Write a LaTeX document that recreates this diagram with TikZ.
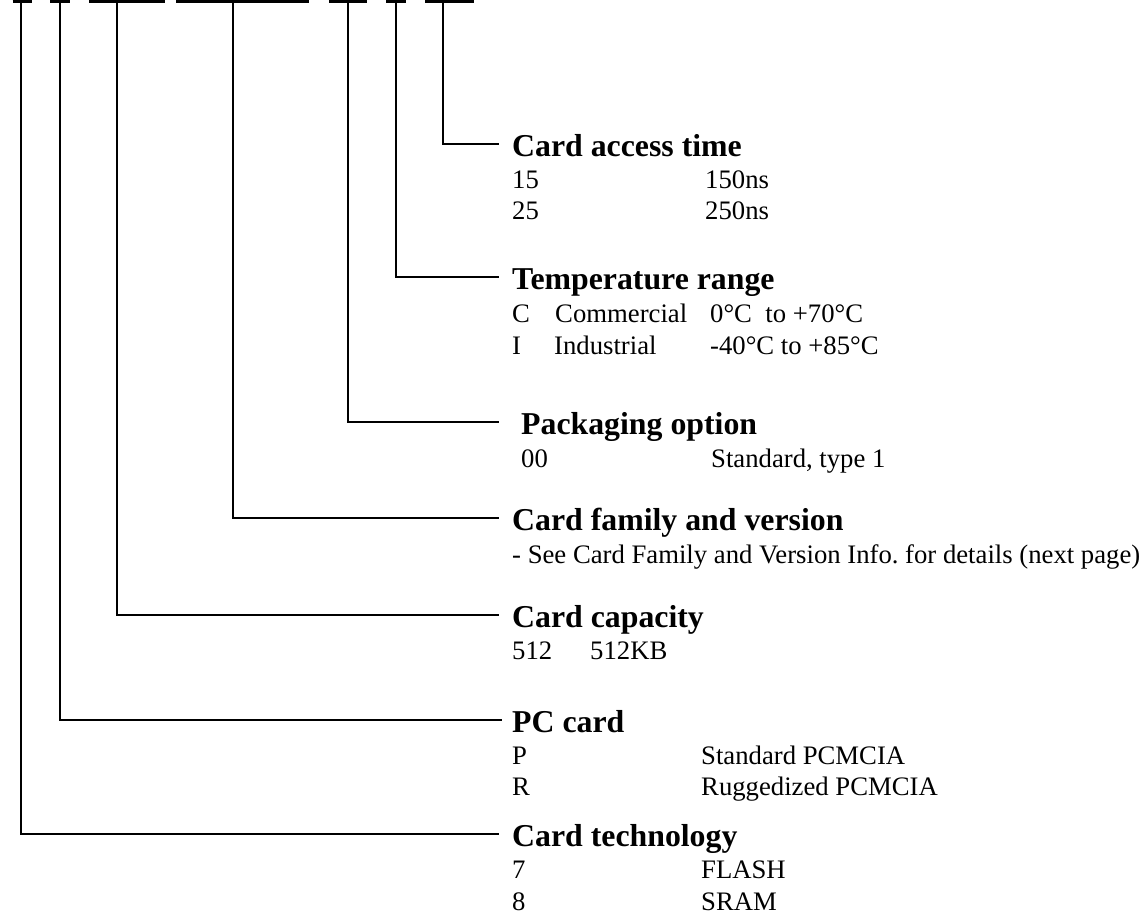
\documentclass[tikz,border=0pt]{standalone}
\usepackage{fontspec}
\setmainfont{Liberation Serif}
\frenchspacing
\tikzset{
  ttl/.style={anchor=base west, inner sep=0pt, font=\fontsize{31.8}{38}\selectfont\bfseries},
  bdy/.style={anchor=base west, inner sep=0pt, font=\fontsize{26.7}{31}\selectfont},
  topbar/.style={line width=2.4pt},
  lead/.style={line width=1.8pt},
}
\begin{document}
\begin{tikzpicture}[x=1pt,y=-1pt]
\useasboundingbox (0,0) rectangle (1146,918);
% top bars
\draw[topbar] (12.7,1.5) -- (31.7,1.5);
\draw[topbar] (50,1.5) -- (70,1.5);
\draw[topbar] (89,1.5) -- (165,1.5);
\draw[topbar] (176,1.5) -- (309,1.5);
\draw[topbar] (329,1.5) -- (367,1.5);
\draw[topbar] (386,1.5) -- (406,1.5);
\draw[topbar] (425,1.5) -- (474,1.5);
% bar taps
\coordinate (sTech) at (21,2);
\coordinate (sPC) at (60,2);
\coordinate (sCap) at (117,2);
\coordinate (sFam) at (233,2);
\coordinate (sPack) at (348,2);
\coordinate (sTemp) at (396,2);
\coordinate (sAcc) at (443,2);
% line ends
\coordinate (eAcc) at (499,144);
\coordinate (eTemp) at (499,277);
\coordinate (ePack) at (499,422);
\coordinate (eFam) at (499,518);
\coordinate (eCap) at (499,615);
\coordinate (ePC) at (502,720);
\coordinate (eTech) at (499,834);
% connectors
\draw[lead] (sAcc) |- (eAcc);
\draw[lead] (sTemp) |- (eTemp);
\draw[lead] (sPack) |- (ePack);
\draw[lead] (sFam) |- (eFam);
\draw[lead] (sCap) |- (eCap);
\draw[lead] (sPC) |- (ePC);
\draw[lead] (sTech) |- (eTech);
% Card access time
\node[ttl] (tAcc) at (512,156) {Card access time};
\node[bdy] (a1) at (512,188) {15};
\node[bdy] (a1v) at (705,188) {150ns};
\node[bdy] (a2) at (512,219) {25};
\node[bdy] (a2v) at (705,219) {250ns};
% Temperature range
\node[ttl] (tTemp) at (512,289) {Temperature range};
\node[bdy] (c1) at (512,322) {C};
\node[bdy] (c1n) at (555,322) {Commercial};
\node[bdy] (c1r) at (710,322) {0°C\hspace{0.5em}to +70°C};
\node[bdy] (c2) at (512,354) {I};
\node[bdy] (c2n) at (554,354) {Industrial};
\node[bdy] (c2r) at (710,354) {-40°C to +85°C};
% Packaging option
\node[ttl] (tPack) at (521,434) {Packaging option};
\node[bdy] (p1) at (521,467) {00};
\node[bdy] (p1v) at (711,467) {Standard, type 1};
% Card family
\node[ttl] (tFam) at (512,530) {Card family and version};
\node[bdy] (f1) at (512,563) {- See Card Family and Version Info. for details (next page)};
% Card capacity
\node[ttl] (tCap) at (512,627) {Card capacity};
\node[bdy] (k1) at (512,659) {512};
\node[bdy] (k1v) at (590,659) {512KB};
% PC card
\node[ttl] (tPC) at (512,732) {PC card};
\node[bdy] (r1) at (512,764) {P};
\node[bdy] (r1v) at (701,764) {Standard PCMCIA};
\node[bdy] (r2) at (512,795) {R};
\node[bdy] (r2v) at (701,795) {Ruggedized PCMCIA};
% Card technology
\node[ttl] (tTech) at (512,846) {Card technology};
\node[bdy] (g1) at (512,878) {7};
\node[bdy] (g1v) at (701,878) {FLASH};
\node[bdy] (g2) at (512,910) {8};
\node[bdy] (g2v) at (701,910) {SRAM};
\end{tikzpicture}
\end{document}
